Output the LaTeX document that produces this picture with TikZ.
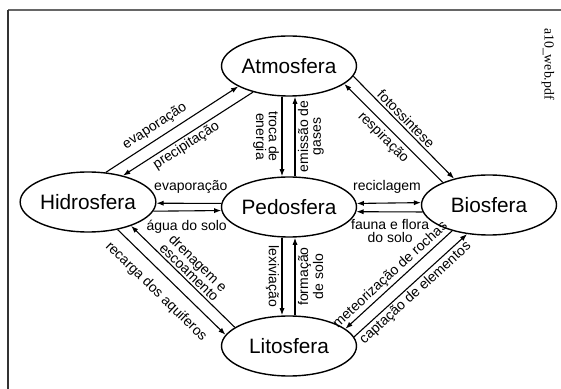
\documentclass[tikz,border=0pt]{standalone}
\usepackage{fontspec}
\setmainfont{Liberation Sans}
\newfontfamily\scanfont{Liberation Serif}
\usetikzlibrary{shapes.geometric,arrows.meta}

\begin{document}
\begin{tikzpicture}[%
	x=0.5pt, y=-0.5pt,
	>={Latex[length=3.6pt,width=2.6pt]},
	sphere/.style={draw, ellipse, line width=0.7pt, minimum width=67.5pt, minimum height=30pt, inner sep=0pt, font=\fontsize{10.4}{12}\selectfont},
	flow/.style={draw, line width=0.55pt},
	lbl/.style={font=\fontsize{7}{6.4}\selectfont, inner sep=1pt, align=center},
	vlbl/.style={lbl, anchor=north, inner sep=1.2pt}
]
\useasboundingbox (0,0) rectangle (561,389);

% moldura
\draw[black!60, line width=0.9pt] (8,10) -- (561,10);
\draw[black!80, line width=0.9pt] (8,10) -- (8,389);

\node[sphere] (atmo)  at (289,66)  {Atmosfera};
\node[sphere] (hydro) at (88,202)  {Hidrosfera};
\node[sphere] (pedo)  at (289,207) {Pedosfera};
\node[sphere] (bio)   at (489,205) {Biosfera};
\node[sphere] (litho) at (289,346) {Litosfera};

\node[font=\scanfont\fontsize{6.9}{8}\selectfont, rotate=-90] (scan) at (548,64) {a10\_web.pdf};

% atmosfera - hidrosfera
\path[flow,->] (hydro.59) -- (atmo.202) node[lbl, sloped, pos=0.42, above=1.5pt] {evaporação};
\path[flow,<-] (hydro.37) -- (atmo.216) node[lbl, sloped, pos=0.45, below] {precipitação};

% atmosfera - biosfera
\path[flow,<-] (atmo.342) -- (bio.154) node[lbl, sloped, pos=0.47, below=0.7pt] {respiração};
\path[flow,->] (atmo.351) -- (bio.143) node[lbl, sloped, pos=0.47, above] {fotossintese};

% atmosfera - pedosfera
\path[flow,->] ([xshift=-3.5pt]atmo.south) -- ([xshift=-3.5pt]pedo.north) node[vlbl, midway, rotate=-90] {troca de\\energia};
\path[flow,<-] ([xshift=3pt]atmo.south) -- ([xshift=3pt]pedo.north) node[vlbl, midway, rotate=90] {emissão de\\gases};

% hidrosfera - pedosfera
\path[flow,<-] (hydro.359) -- (pedo.177) node[lbl, pos=0.53, above=3.6pt] {evaporação};
\path[flow,->] (hydro.352) -- (pedo.183) node[lbl, pos=0.49, below=3.6pt] {água do solo};

% pedosfera - biosfera
\path[flow,<->] (pedo.3) -- (bio.178) node[lbl, pos=0.47, above=3.6pt] {reciclagem};
\path[flow,<-] (pedo.356) -- (bio.186) node[lbl, pos=0.51, below=2.6pt] {fauna e flora\\do solo};

% hidrosfera - litosfera
\path[flow,<-] (hydro.331) -- (litho.161) node[lbl, sloped, pos=0.51, above] {drenagem e\\escoamento};
\path[flow,->] (hydro.317) -- (litho.170) node[lbl, sloped, pos=0.47, below=4.3pt] {recarga dos aquiferos};

% pedosfera - litosfera
\path[flow,->] ([xshift=-3.5pt]pedo.south) -- ([xshift=-3.5pt]litho.north) node[vlbl, midway, rotate=-90] {lexiviação};
\path[flow,<-] ([xshift=3pt]pedo.south) -- ([xshift=3pt]litho.north) node[vlbl, midway, rotate=90] {formação\\de solo};

% litosfera - biosfera
\path[flow,<-] (litho.17) -- (bio.215) node[lbl, sloped, pos=0.48, above] {meteorização de rochas};
\path[flow,->] (litho.8) -- (bio.233) node[lbl, sloped, pos=0.49, below] {captação de elementos};

\end{tikzpicture}
\end{document}
